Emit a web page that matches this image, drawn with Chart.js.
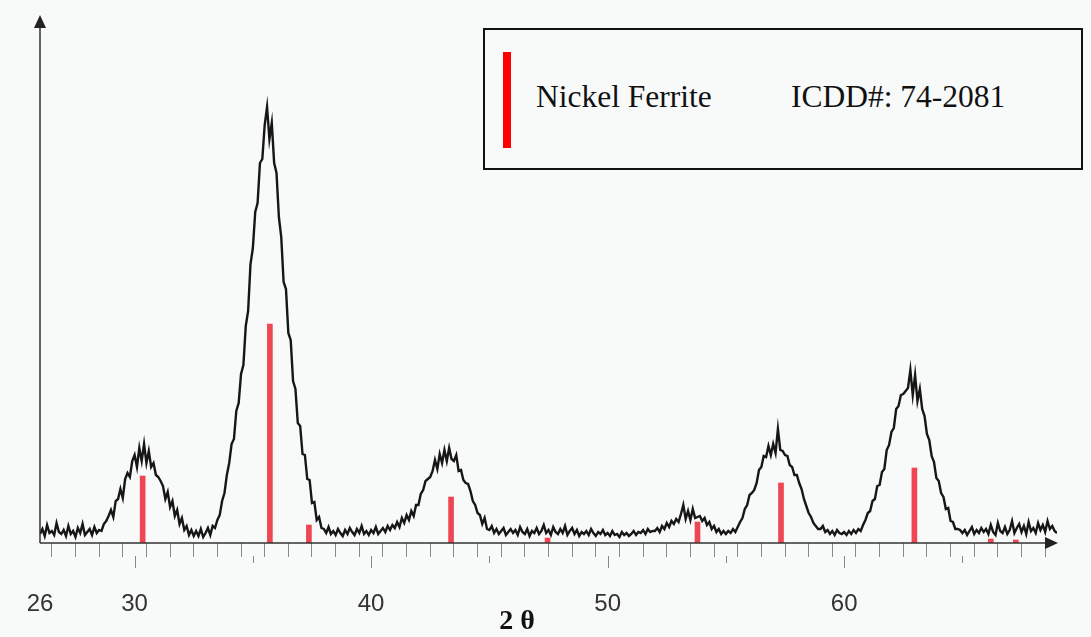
<!DOCTYPE html>
<html>
<head>
<meta charset="utf-8">
<script src="https://cdn.jsdelivr.net/npm/chart.js@4"></script>
<style>
  html, body { margin: 0; padding: 0; background: #f8f9f9; }
  #wrap { position: relative; width: 1091px; height: 637px; }
  #legendBox {
    position: absolute; left: 483px; top: 28px; width: 596px; height: 138px;
    border: 2px solid #111; background: #f8f9f9;
    font-family: "Liberation Serif", "Times New Roman", serif; font-size: 31.5px; color: #111;
  }
  #legendBox .bar { position: absolute; left: 18px; top: 22px; width: 8px; height: 96px; background: #ff0000; }
  #legendBox .txt { position: absolute; top: 52px; line-height: 30px; white-space: nowrap; }
  #xTitle {
    position: absolute; left: 480px; width: 74px; top: 605px; text-align: center;
    font-family: "Liberation Serif", "Times New Roman", serif; font-weight: bold; font-size: 28px;
    line-height: 30px; color: #111;
  }
</style>
</head>
<body>
<div id="wrap">
  <canvas id="xrd" width="1091" height="637"></canvas>
  <div id="legendBox">
    <div class="bar"></div>
    <div class="txt" style="left:51px">Nickel Ferrite</div>
    <div class="txt" style="left:306px">ICDD#: 74-2081</div>
  </div>
  <div id="xTitle">2 θ</div>
</div>
<script>
// 2θ axis
const twoThetaStart = 26;
const twoThetaStep = 0.1;
const tickLabels = [26, 30, 40, 50, 60];

// measured intensity, one row per degree (26.0 .. 68.9), then 69.0
const intensity = [
  9, 14, 7, 18, 10, 12, 8, 20, 11, 9,
  13, 7, 17, 9, 12, 6, 15, 10, 19, 8,
  11, 14, 8, 16, 10, 13, 12, 19, 22, 27,
  33, 26, 42, 44, 54, 45, 64, 70, 66, 82,
  88, 76, 95, 82, 99, 80, 92, 76, 80, 68,
  66, 62, 57, 44, 51, 36, 42, 27, 33, 19,
  25, 13, 17, 8, 13, 7, 12, 7, 14, 6,
  10, 15, 8, 17, 15, 23, 28, 42, 50, 68,
  80, 99, 104, 132, 140, 169, 178, 217, 232, 279,
  295, 331, 340, 380, 384, 418, 436, 404, 420, 380,
  370, 326, 306, 261, 254, 210, 203, 162, 154, 120,
  117, 89, 88, 64, 63, 40, 41, 23, 26, 15,
  14, 10, 16, 9, 12, 8, 14, 10, 7, 13,
  9, 15, 11, 8, 14, 10, 17, 9, 12, 8,
  13, 10, 16, 9, 12, 15, 11, 17, 13, 18,
  15, 21, 16, 25, 20, 28, 23, 32, 27, 38,
  38, 49, 53, 62, 64, 66, 72, 83, 74, 89,
  80, 93, 82, 95, 84, 82, 88, 72, 73, 63,
  60, 59, 52, 42, 38, 30, 28, 19, 25, 14,
  13, 17, 10, 14, 9, 12, 15, 8, 11, 14,
  10, 13, 8, 16, 11, 9, 14, 7, 12, 10,
  15, 9, 12, 18, 10, 13, 8, 16, 11, 9,
  14, 10, 17, 8, 12, 15, 9, 13, 7, 11,
  9, 12, 8, 14, 10, 7, 11, 9, 13, 8,
  10, 7, 12, 8, 9, 6, 11, 8, 10, 7,
  9, 12, 8, 11, 10, 13, 9, 14, 11, 12,
  12, 15, 11, 17, 14, 20, 16, 22, 19, 24,
  21, 29, 38, 24, 32, 23, 34, 25, 26, 27,
  22, 25, 18, 21, 14, 17, 11, 14, 9, 12,
  9, 12, 10, 14, 11, 16, 21, 25, 34, 38,
  48, 50, 53, 60, 73, 76, 87, 86, 97, 88,
  99, 90, 114, 93, 92, 88, 87, 78, 76, 68,
  68, 60, 54, 44, 37, 30, 26, 20, 17, 14,
  14, 17, 11, 13, 9, 12, 8, 13, 10, 9,
  11, 8, 12, 9, 13, 10, 14, 12, 18, 23,
  30, 32, 42, 44, 57, 58, 71, 74, 93, 98,
  111, 115, 134, 137, 148, 149, 152, 155, 173, 148,
  168, 142, 154, 134, 127, 109, 103, 87, 81, 65,
  62, 50, 46, 34, 35, 22, 21, 14, 14, 13,
  10, 13, 8, 12, 16, 9, 13, 10, 15, 11,
  14, 9, 18, 11, 8, 20, 12, 10, 16, 9,
  13, 22, 10, 15, 19, 11, 17, 9, 21, 12,
  15, 10, 20, 13, 18, 11, 22, 14, 17, 12,
  10
];

// ICDD 74-2081 reference lines
const refPos = [30.34, 35.72, 37.37, 43.38, 47.46, 53.8, 57.33, 62.97, 66.2, 67.26];
const refInt = [67, 219, 18, 46, 5, 21, 60, 75, 4, 3];

const tracePts = intensity.map((v, i) => ({ x: +(twoThetaStart + i * twoThetaStep).toFixed(1), y: v }));
const refPts = refPos.map((p, i) => ({ x: p, y: refInt[i] }));

// axis lines, arrow heads and the longer 5/10 tick marks
const axisDecor = {
  id: 'axisDecor',
  afterDraw(chart) {
    const { ctx, chartArea: a, scales: { x } } = chart;
    ctx.save();
    ctx.strokeStyle = '#333';
    ctx.fillStyle = '#222';
    ctx.lineWidth = 1.5;
    ctx.beginPath();
    ctx.moveTo(a.left, a.bottom);
    ctx.lineTo(a.left, a.top + 10);
    ctx.moveTo(a.left, a.bottom);
    ctx.lineTo(a.right - 8, a.bottom);
    ctx.stroke();
    ctx.beginPath();
    ctx.moveTo(a.left, a.top);
    ctx.lineTo(a.left - 6, a.top + 13);
    ctx.lineTo(a.left + 6, a.top + 13);
    ctx.closePath();
    ctx.fill();
    ctx.beginPath();
    ctx.moveTo(a.right + 1, a.bottom);
    ctx.lineTo(a.right - 12, a.bottom - 6);
    ctx.lineTo(a.right - 12, a.bottom + 6);
    ctx.closePath();
    ctx.fill();
    ctx.strokeStyle = '#888';
    ctx.lineWidth = 1;
    ctx.beginPath();
    x.ticks.forEach(t => {
      if (t.value % 5 !== 0) return;
      const px = Math.round(x.getPixelForValue(t.value)) + 0.5;
      ctx.moveTo(px, a.bottom + 13);
      ctx.lineTo(px, a.bottom + (t.value % 10 === 0 ? 25 : 20));
    });
    ctx.stroke();
    ctx.restore();
  }
};

new Chart(document.getElementById('xrd'), {
  type: 'line',
  data: {
    datasets: [
      {
        type: 'bar',
        data: refPts,
        backgroundColor: '#ee4652',
        barThickness: 5,
        order: 0
      },
      {
        type: 'line',
        data: tracePts,
        borderColor: '#161616',
        borderWidth: 2.4,
        pointRadius: 0,
        tension: 0,
        order: 1
      }
    ]
  },
  options: {
    responsive: false,
    devicePixelRatio: 1,
    animation: false,
    layout: { padding: { left: 40, right: 34, top: 15, bottom: 0 } },
    plugins: { legend: { display: false }, tooltip: { enabled: false } },
    scales: {
      x: {
        type: 'linear',
        min: 26,
        max: 69,
        offset: false,
        afterFit: s => {
          s.height = 94;
          s.paddingLeft = 0;
          s.paddingRight = 0;
        },
        border: { display: false },
        grid: { drawOnChartArea: false, drawTicks: true, tickLength: 14, color: '#888', lineWidth: 1 },
        ticks: {
          stepSize: 1,
          autoSkip: false,
          maxRotation: 0,
          padding: 33,
          color: '#333',
          font: { family: 'Liberation Sans, Arial, sans-serif', size: 24 },
          callback: v => tickLabels.includes(v) ? String(v) : ''
        }
      },
      y: {
        display: false,
        min: 0,
        max: 528
      }
    }
  },
  plugins: [axisDecor]
});
</script>
</body>
</html>
